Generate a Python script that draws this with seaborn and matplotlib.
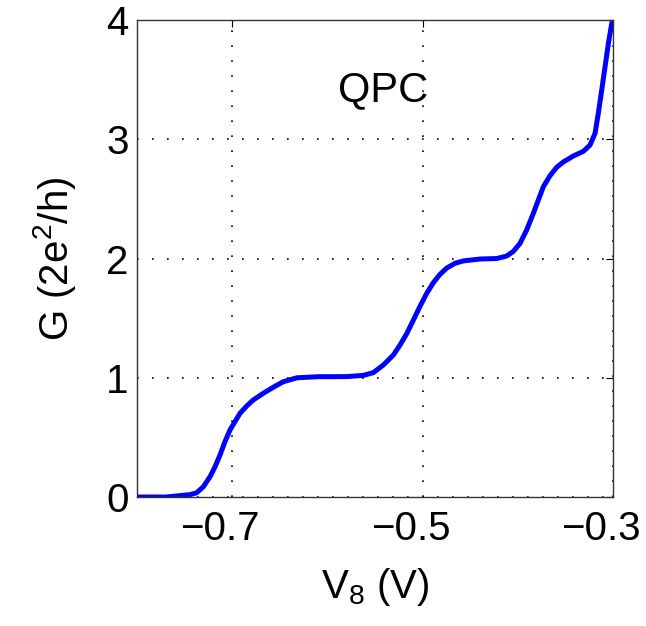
import numpy as np
import pandas as pd
import matplotlib
matplotlib.use("Agg")
import matplotlib.pyplot as plt
import matplotlib.transforms as mtransforms
import seaborn as sns

# Data
gate_voltage = [-0.800, -0.770, -0.7443, -0.7373, -0.7303, -0.7233, -0.718, -0.7128, -0.7076,
                -0.7023, -0.6971, -0.6918, -0.6848, -0.678, -0.6673, -0.657, -0.6463, -0.632,
                -0.610, -0.5797, -0.5623, -0.5518, -0.5413, -0.5308, -0.5237, -0.5167, -0.5097,
                -0.5027, -0.4957, -0.4888, -0.4818, -0.4747, -0.466, -0.4573, -0.4397, -0.4222,
                -0.4117, -0.4047, -0.3977, -0.3907, -0.3837, -0.3785, -0.3732, -0.3662, -0.3592,
                -0.3522, -0.3417, -0.3312, -0.3242, -0.3189, -0.3155, -0.3119, -0.3084, -0.3049,
                -0.3014, -0.300]
conductance = [0.0, 0.0, 0.02, 0.036, 0.086, 0.17, 0.254, 0.352, 0.464,
               0.562, 0.632, 0.702, 0.763, 0.813, 0.870, 0.920, 0.967, 1.00,
               1.009, 1.01, 1.02, 1.043, 1.107, 1.19, 1.275, 1.37, 1.484,
               1.60, 1.708, 1.797, 1.867, 1.92, 1.96, 1.98, 1.996, 2.00,
               2.021, 2.06, 2.127, 2.24, 2.379, 2.49, 2.602, 2.695, 2.765,
               2.81, 2.86, 2.899, 2.952, 3.05, 3.217, 3.413, 3.608, 3.804,
               3.97, 4.0]
x_ticks = [-0.7, -0.5, -0.3]
x_tick_labels = ["\u22120.7", "\u22120.5", "\u22120.3"]
y_ticks = [0, 1, 2, 3, 4]
annotation = "QPC"

sns.set_style("white")
plt.rcParams['font.family'] = ['Liberation Sans', 'DejaVu Sans']
plt.rcParams['mathtext.fontset'] = 'custom'
plt.rcParams['mathtext.rm'] = 'Liberation Sans'
plt.rcParams['mathtext.it'] = 'Liberation Sans'
plt.rcParams['text.color'] = 'black'
plt.rcParams['axes.labelcolor'] = 'black'
plt.rcParams['xtick.color'] = 'black'
plt.rcParams['ytick.color'] = 'black'

df = pd.DataFrame({"V": gate_voltage, "G": conductance})

fig = plt.figure(figsize=(6.46, 6.26), dpi=100)
ax = fig.add_axes([0.212, 0.206, 0.737, 0.762])
sns.lineplot(data=df, x="V", y="G", ax=ax, color="#0000ff", linewidth=3.6, sort=False,
             solid_joinstyle="round", solid_capstyle="round")

ax.set_xlim(-0.8, -0.3)
ax.set_ylim(0, 4)
ax.set_xticks(x_ticks)
ax.set_xticklabels(x_tick_labels)
ax.set_yticks(y_ticks)
ax.tick_params(direction="in", length=5, width=0.8, top=True, right=True,
               labelsize=29, colors="black")
ax.tick_params(axis="x", pad=9)
ax.tick_params(axis="y", pad=6)
shift = mtransforms.ScaledTranslation(-12 / 100, 0, fig.dpi_scale_trans)
for lab in ax.get_xticklabels():
    lab.set_transform(lab.get_transform() + shift)
ax.grid(True, linestyle=(0, (1, 8)), color="black", linewidth=1.2)
for s in ax.spines.values():
    s.set_color("#333333")
    s.set_linewidth(1.0)

ax.set_xlabel("V$_8$ (V)", fontsize=29, labelpad=13)
ax.set_ylabel("G (2e$^2$/h)", fontsize=29, labelpad=20)
ax.text(-0.5416, 3.41, annotation, fontsize=30, ha="center", va="center")

fig.savefig("out.png", dpi=100)
